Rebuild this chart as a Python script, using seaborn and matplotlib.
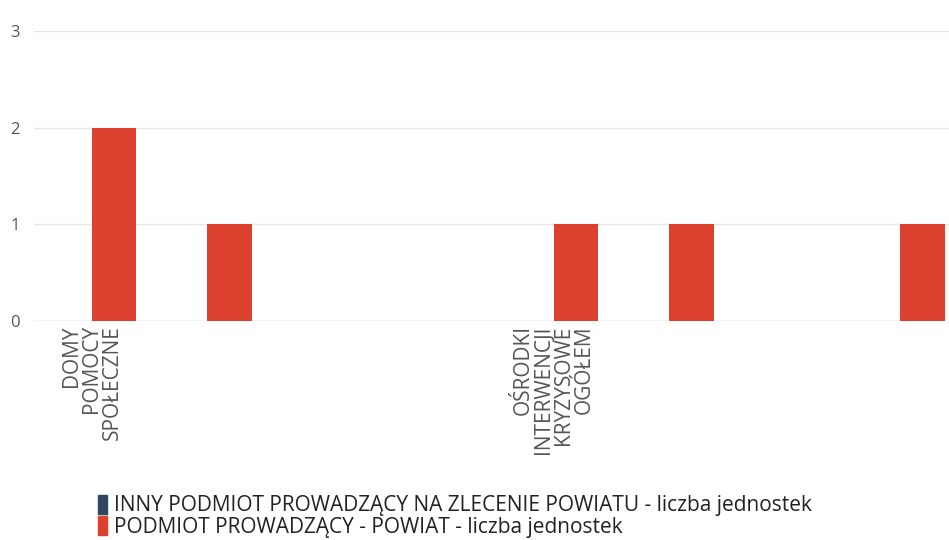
import numpy as np
import pandas as pd
import matplotlib
matplotlib.use("Agg")
import matplotlib.pyplot as plt
import matplotlib.patches as mpatches
import seaborn as sns

# categories (only every 4th label is shown on the axis in the original)
categories = ["DOMY POMOCY SPOŁECZNE", "kat_2", "kat_3", "kat_4",
              "OŚRODKI INTERWENCJI KRYZYSOWE OGÓŁEM", "kat_6", "kat_7", "kat_8"]
tick_labels = ["DOMY\nPOMOCY\nSPOŁECZNE", "", "", "",
               "OŚRODKI\nINTERWENCJI\nKRYZYSOWE\nOGÓŁEM", "", "", ""]
series_names = ["INNY PODMIOT PROWADZĄCY NA ZLECENIE POWIATU - liczba jednostek",
                "PODMIOT PROWADZĄCY - POWIAT - liczba jednostek"]
inny_values = [0, 0, 0, 0, 0, 0, 0, 0]
powiat_values = [2, 1, 0, 0, 1, 1, 0, 1]
colors = ["#2f4560", "#dc402f"]

df = pd.DataFrame({
    "kategoria": categories * 2,
    "seria": [series_names[0]] * len(categories) + [series_names[1]] * len(categories),
    "wartosc": inny_values + powiat_values,
})

sns.set_style("white")
plt.rcParams["font.family"] = ["Open Sans", "DejaVu Sans"]

fig = plt.figure(figsize=(9.49, 5.4), dpi=100)
# axes run a bit past the right edge, like the cropped original
ax = fig.add_axes([34 / 949, 1 - 321 / 540, 924 / 949, 290 / 540])

sns.barplot(data=df, x="kategoria", y="wartosc", hue="seria", order=categories,
            hue_order=series_names, palette=colors, width=0.77, linewidth=0,
            saturation=1, legend=False, ax=ax)

ax.set_xlim(-0.5, len(categories) - 0.5)
ax.set_ylim(0, 3)
ax.set_yticks([0, 1, 2, 3])
ax.yaxis.grid(True, color="#e6e6e6", linewidth=1)
ax.set_axisbelow(True)
for s in ax.spines.values():
    s.set_visible(False)
ax.axhline(0, color="#d8d8e0", linewidth=1, zorder=0.5)

ax.set_xlabel("")
ax.set_ylabel("")
ax.set_xticks(range(len(categories)))
ax.set_xticklabels(tick_labels, rotation=90, ha="center", va="top",
                   multialignment="right", fontsize=15, color="#555555",
                   linespacing=0.95)
ax.tick_params(axis="x", length=0, pad=3)
ax.tick_params(axis="y", length=0, pad=10, labelsize=12, labelcolor="#555555")

handles = [mpatches.Patch(color=c, label=n) for c, n in zip(colors, series_names)]
fig.legend(handles=handles, loc="upper left", bbox_to_anchor=(98 / 949, 1 - 495 / 540),
           frameon=False, fontsize=15, handlelength=0.42, handleheight=1.0,
           handletextpad=0.35, labelspacing=0.0, borderpad=0, borderaxespad=0,
           labelcolor="#222222")

fig.savefig("out.png", dpi=100)
